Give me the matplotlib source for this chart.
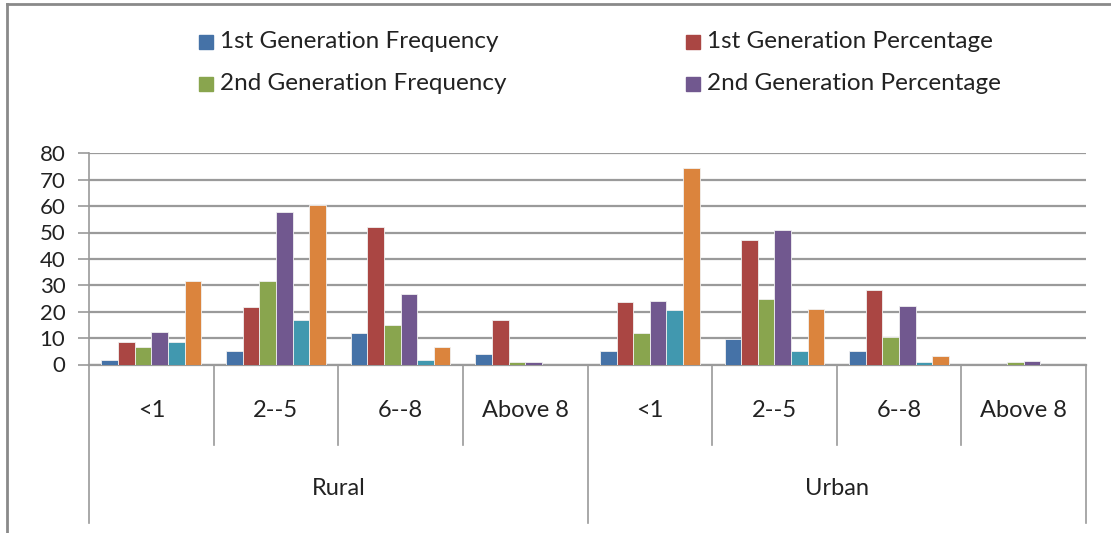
import numpy as np
import matplotlib.pyplot as plt
from matplotlib.patches import Rectangle
from matplotlib.lines import Line2D

plt.rcParams['font.family'] = ['Lato', 'DejaVu Sans']

groups = ['Rural', 'Urban']
cats = ['<1', '2--5', '6--8', 'Above 8']
series = ['1st Generation Frequency', '1st Generation Percentage',
          '2nd Generation Frequency', '2nd Generation Percentage',
          'Series5', 'Series6']
colors = ['#4572A7', '#AA4643', '#89A54E', '#71588F', '#4198AF', '#DB843D']

# values per series, order: Rural <1, 2--5, 6--8, Above 8, Urban <1, 2--5, 6--8, Above 8
gen1_freq = [1.6, 5, 11.8, 3.8, 5, 9.7, 5.3, 0]
gen1_pct = [8.5, 21.6, 52, 16.8, 23.7, 47.3, 28.4, 0]
gen2_freq = [6.5, 31.5, 14.8, 0.8, 11.8, 24.7, 10.5, 0.8]
gen2_pct = [12.2, 57.8, 26.8, 1.1, 24.2, 50.9, 22.2, 1.5]
s5 = [8.5, 16.8, 1.6, 0, 20.5, 5.3, 0.8, 0]
s6 = [31.5, 60.3, 6.8, 0, 74.4, 21, 3.3, 0]
data = [gen1_freq, gen1_pct, gen2_freq, gen2_pct, s5, s6]

W, H = 1111, 533
fig = plt.figure(figsize=(W / 100, H / 100), dpi=100)
ax = fig.add_axes([89 / W, 1 - 364.5 / H, (1086 - 89) / W, (364.5 - 153.3) / H])

n = len(groups) * len(cats)
x = np.arange(n)
bw = 0.8 / len(data)
for k, vals in enumerate(data):
    ax.bar(x + 0.1 + bw * (k + 0.5), vals, bw, color=colors[k],
           edgecolor='#f0f0f0', linewidth=0.6, zorder=3)

ax.set_xlim(0, n)
ax.set_ylim(0, 80)
ax.set_yticks(np.arange(0, 81, 10))
ax.yaxis.grid(True, color='#9a9a9a', linewidth=1.6, zorder=0)
ax.tick_params(axis='y', length=8, width=1.2, color='#9a9a9a', labelsize=16,
               pad=9, labelcolor='#222222')
ax.set_xticks([])
for s in ['top', 'right']:
    ax.spines[s].set_visible(False)
ax.spines['left'].set_color('#9a9a9a')
ax.spines['bottom'].set_color('#9a9a9a')
ax.spines['left'].set_linewidth(1.2)
ax.spines['bottom'].set_linewidth(1.6)

# multi-level category axis
tr = ax.get_xaxis_transform()
sep_short = -80 / (364.5 - 153.3)
sep_long = -158 / (364.5 - 153.3)
for i in range(n + 1):
    y_end = sep_long if i % len(cats) == 0 else sep_short
    ax.add_line(Line2D([i, i], [0, y_end], transform=tr, color='#9a9a9a',
                       linewidth=1.2, clip_on=False))
for i in range(n):
    ax.text(i + 0.5, -46 / 211.2, cats[i % len(cats)], transform=tr,
            ha='center', va='center', fontsize=17, color='#222222')
for g, name in enumerate(groups):
    ax.text(g * len(cats) + len(cats) / 2, -124 / 211.2, name, transform=tr,
            ha='center', va='center', fontsize=17, color='#222222')

# legend (only the first four series are labelled)
leg_x = [199, 686]
leg_y = [42, 84]
for k in range(4):
    lx = leg_x[k % 2]
    ly = leg_y[k // 2]
    fig.add_artist(Rectangle((lx / W, 1 - (ly + 7) / H), 14 / W, 14 / H,
                             transform=fig.transFigure, color=colors[k]))
    fig.text((lx + 21) / W, 1 - ly / H, series[k], ha='left', va='center',
             fontsize=17.5, color='#222222')

# chart area border
fig.add_artist(Line2D([7 / W, 7 / W], [0, 1 - 4 / H], transform=fig.transFigure,
                      color='#8a8a8a', linewidth=2))
fig.add_artist(Line2D([7 / W, 1], [1 - 4 / H, 1 - 4 / H], transform=fig.transFigure,
                      color='#8a8a8a', linewidth=2))

fig.savefig('out.png', dpi=100)
